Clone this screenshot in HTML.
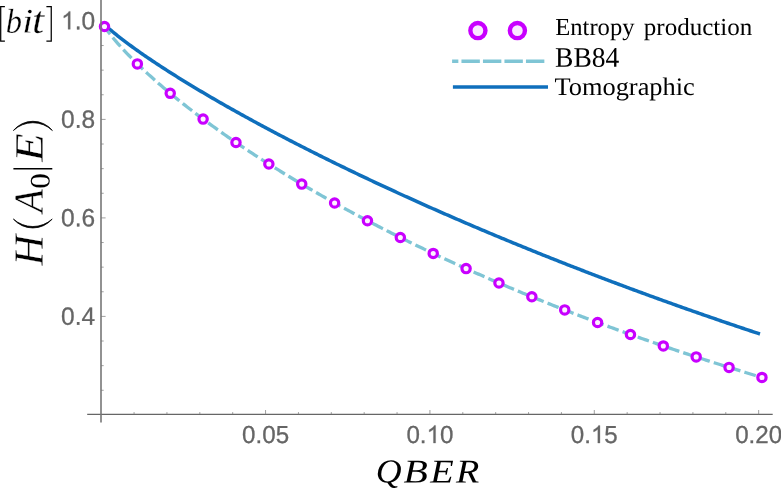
<!DOCTYPE html>
<html><head><meta charset="utf-8"><title>plot</title>
<style>
html,body{margin:0;padding:0;background:#fff;}
body{width:781px;height:489px;overflow:hidden;}
svg{display:block;will-change:transform;}
.sans{font-family:"Liberation Sans",sans-serif;fill:#666;}
.serif{font-family:"Liberation Serif",serif;fill:#000;}
.it{font-family:"Liberation Serif",serif;font-style:italic;fill:#000;}
</style></head><body>
<svg width="781" height="489" viewBox="0 0 781 489">
<rect width="781" height="489" fill="#fff"/>
<!-- curves -->
<path d="M104.49,24.45 L106.13,26.00 L107.77,27.50 L109.42,28.95 L111.06,30.37 L112.70,31.75 L114.34,33.11 L115.99,34.45 L117.63,35.77 L119.27,37.06 L120.92,38.35 L122.56,39.61 L124.20,40.87 L125.84,42.11 L127.49,43.34 L129.13,44.55 L130.77,45.76 L132.42,46.96 L134.06,48.15 L135.70,49.32 L137.34,50.49 L138.99,51.65 L140.63,52.81 L142.27,53.95 L143.92,55.09 L145.56,56.22 L147.20,57.34 L148.84,58.46 L150.49,59.57 L152.13,60.68 L153.77,61.78 L155.41,62.87 L157.06,63.96 L158.70,65.04 L160.34,66.12 L161.99,67.19 L163.63,68.26 L165.27,69.32 L166.91,70.38 L168.56,71.43 L170.20,72.48 L171.84,73.52 L173.49,74.56 L175.13,75.59 L176.77,76.62 L178.41,77.65 L180.06,78.67 L181.70,79.69 L183.34,80.71 L184.99,81.72 L186.63,82.73 L188.27,83.73 L189.91,84.73 L191.56,85.73 L193.20,86.72 L194.84,87.71 L196.49,88.69 L198.13,89.68 L199.77,90.66 L201.41,91.63 L203.06,92.61 L204.70,93.58 L206.34,94.54 L207.99,95.51 L209.63,96.47 L211.27,97.43 L212.91,98.38 L214.56,99.34 L216.20,100.29 L217.84,101.23 L219.49,102.18 L221.13,103.12 L222.77,104.06 L224.41,104.99 L226.06,105.93 L227.70,106.86 L229.34,107.79 L230.98,108.71 L232.63,109.64 L234.27,110.56 L235.91,111.48 L237.56,112.39 L239.20,113.31 L240.84,114.22 L242.48,115.13 L244.13,116.03 L245.77,116.94 L247.41,117.84 L249.06,118.74 L250.70,119.64 L252.34,120.54 L253.98,121.43 L255.63,122.32 L257.27,123.21 L258.91,124.10 L260.56,124.98 L262.20,125.86 L263.84,126.75 L265.48,127.62 L267.13,128.50 L268.77,129.38 L270.41,130.25 L272.06,131.12 L273.70,131.99 L275.34,132.86 L276.98,133.72 L278.63,134.58 L280.27,135.45 L281.91,136.30 L283.56,137.16 L285.20,138.02 L286.84,138.87 L288.48,139.72 L290.13,140.57 L291.77,141.42 L293.41,142.27 L295.06,143.11 L296.70,143.96 L298.34,144.80 L299.98,145.64 L301.63,146.48 L303.27,147.31 L304.91,148.15 L306.55,148.98 L308.20,149.81 L309.84,150.64 L311.48,151.47 L313.13,152.29 L314.77,153.12 L316.41,153.94 L318.05,154.76 L319.70,155.58 L321.34,156.40 L322.98,157.22 L324.63,158.03 L326.27,158.85 L327.91,159.66 L329.55,160.47 L331.20,161.28 L332.84,162.09 L334.48,162.89 L336.13,163.70 L337.77,164.50 L339.41,165.30 L341.05,166.10 L342.70,166.90 L344.34,167.69 L345.98,168.49 L347.63,169.28 L349.27,170.08 L350.91,170.87 L352.55,171.66 L354.20,172.45 L355.84,173.23 L357.48,174.02 L359.13,174.80 L360.77,175.59 L362.41,176.37 L364.05,177.15 L365.70,177.93 L367.34,178.70 L368.98,179.48 L370.63,180.25 L372.27,181.03 L373.91,181.80 L375.55,182.57 L377.20,183.34 L378.84,184.10 L380.48,184.87 L382.12,185.64 L383.77,186.40 L385.41,187.16 L387.05,187.92 L388.70,188.68 L390.34,189.44 L391.98,190.20 L393.62,190.96 L395.27,191.71 L396.91,192.47 L398.55,193.22 L400.20,193.97 L401.84,194.72 L403.48,195.47 L405.12,196.22 L406.77,196.96 L408.41,197.71 L410.05,198.45 L411.70,199.19 L413.34,199.93 L414.98,200.67 L416.62,201.41 L418.27,202.15 L419.91,202.89 L421.55,203.62 L423.20,204.36 L424.84,205.09 L426.48,205.82 L428.12,206.55 L429.77,207.28 L431.41,208.01 L433.05,208.74 L434.70,209.46 L436.34,210.19 L437.98,210.91 L439.62,211.64 L441.27,212.36 L442.91,213.08 L444.55,213.80 L446.20,214.52 L447.84,215.23 L449.48,215.95 L451.12,216.66 L452.77,217.38 L454.41,218.09 L456.05,218.80 L457.69,219.51 L459.34,220.22 L460.98,220.93 L462.62,221.64 L464.27,222.34 L465.91,223.05 L467.55,223.75 L469.19,224.45 L470.84,225.15 L472.48,225.85 L474.12,226.55 L475.77,227.25 L477.41,227.95 L479.05,228.65 L480.69,229.34 L482.34,230.04 L483.98,230.73 L485.62,231.42 L487.27,232.11 L488.91,232.80 L490.55,233.49 L492.19,234.18 L493.84,234.87 L495.48,235.55 L497.12,236.24 L498.77,236.92 L500.41,237.60 L502.05,238.29 L503.69,238.97 L505.34,239.65 L506.98,240.33 L508.62,241.00 L510.27,241.68 L511.91,242.36 L513.55,243.03 L515.19,243.71 L516.84,244.38 L518.48,245.05 L520.12,245.72 L521.77,246.39 L523.41,247.06 L525.05,247.73 L526.69,248.39 L528.34,249.06 L529.98,249.73 L531.62,250.39 L533.26,251.05 L534.91,251.71 L536.55,252.38 L538.19,253.04 L539.84,253.69 L541.48,254.35 L543.12,255.01 L544.76,255.67 L546.41,256.32 L548.05,256.98 L549.69,257.63 L551.34,258.28 L552.98,258.93 L554.62,259.58 L556.26,260.23 L557.91,260.88 L559.55,261.53 L561.19,262.18 L562.84,262.82 L564.48,263.47 L566.12,264.11 L567.76,264.76 L569.41,265.40 L571.05,266.04 L572.69,266.68 L574.34,267.32 L575.98,267.96 L577.62,268.59 L579.26,269.23 L580.91,269.87 L582.55,270.50 L584.19,271.14 L585.84,271.77 L587.48,272.40 L589.12,273.03 L590.76,273.66 L592.41,274.29 L594.05,274.92 L595.69,275.55 L597.34,276.18 L598.98,276.80 L600.62,277.43 L602.26,278.05 L603.91,278.67 L605.55,279.30 L607.19,279.92 L608.83,280.54 L610.48,281.16 L612.12,281.78 L613.76,282.39 L615.41,283.01 L617.05,283.63 L618.69,284.24 L620.33,284.86 L621.98,285.47 L623.62,286.08 L625.26,286.69 L626.91,287.31 L628.55,287.92 L630.19,288.52 L631.83,289.13 L633.48,289.74 L635.12,290.35 L636.76,290.95 L638.41,291.56 L640.05,292.16 L641.69,292.76 L643.33,293.37 L644.98,293.97 L646.62,294.57 L648.26,295.17 L649.91,295.77 L651.55,296.36 L653.19,296.96 L654.83,297.56 L656.48,298.15 L658.12,298.75 L659.76,299.34 L661.41,299.93 L663.05,300.53 L664.69,301.12 L666.33,301.71 L667.98,302.30 L669.62,302.89 L671.26,303.47 L672.91,304.06 L674.55,304.65 L676.19,305.23 L677.83,305.82 L679.48,306.40 L681.12,306.98 L682.76,307.57 L684.40,308.15 L686.05,308.73 L687.69,309.31 L689.33,309.89 L690.98,310.46 L692.62,311.04 L694.26,311.62 L695.90,312.19 L697.55,312.77 L699.19,313.34 L700.83,313.91 L702.48,314.49 L704.12,315.06 L705.76,315.63 L707.40,316.20 L709.05,316.77 L710.69,317.33 L712.33,317.90 L713.98,318.47 L715.62,319.03 L717.26,319.60 L718.90,320.16 L720.55,320.72 L722.19,321.29 L723.83,321.85 L725.48,322.41 L727.12,322.97 L728.76,323.53 L730.40,324.09 L732.05,324.64 L733.69,325.20 L735.33,325.76 L736.98,326.31 L738.62,326.87 L740.26,327.42 L741.90,327.97 L743.55,328.52 L745.19,329.08 L746.83,329.63 L748.48,330.18 L750.12,330.72 L751.76,331.27 L753.40,331.82 L755.05,332.37 L756.69,332.91 L758.33,333.46 L759.97,334.00" fill="none" stroke="#0f6fbc" stroke-width="3.5" stroke-linejoin="round"/>
<path d="M104.49,26.52 L106.14,28.90 L107.78,31.16 L109.43,33.33 L111.08,35.43 L112.73,37.47 L114.37,39.46 L116.02,41.40 L117.67,43.30 L119.32,45.17 L120.96,47.01 L122.61,48.81 L124.26,50.59 L125.91,52.34 L127.56,54.07 L129.20,55.77 L130.85,57.46 L132.50,59.12 L134.15,60.76 L135.79,62.39 L137.44,64.00 L139.09,65.59 L140.74,67.17 L142.39,68.73 L144.03,70.28 L145.68,71.82 L147.33,73.34 L148.98,74.85 L150.62,76.34 L152.27,77.83 L153.92,79.30 L155.57,80.76 L157.22,82.21 L158.86,83.65 L160.51,85.08 L162.16,86.49 L163.81,87.90 L165.45,89.30 L167.10,90.69 L168.75,92.07 L170.40,93.44 L172.05,94.81 L173.69,96.16 L175.34,97.51 L176.99,98.85 L178.64,100.18 L180.28,101.50 L181.93,102.81 L183.58,104.12 L185.23,105.42 L186.88,106.72 L188.52,108.00 L190.17,109.28 L191.82,110.55 L193.47,111.82 L195.11,113.08 L196.76,114.33 L198.41,115.58 L200.06,116.82 L201.71,118.05 L203.35,119.28 L205.00,120.50 L206.65,121.72 L208.30,122.93 L209.94,124.13 L211.59,125.33 L213.24,126.53 L214.89,127.71 L216.54,128.90 L218.18,130.08 L219.83,131.25 L221.48,132.42 L223.13,133.58 L224.77,134.74 L226.42,135.89 L228.07,137.04 L229.72,138.18 L231.37,139.32 L233.01,140.45 L234.66,141.58 L236.31,142.70 L237.96,143.82 L239.60,144.94 L241.25,146.05 L242.90,147.15 L244.55,148.26 L246.20,149.35 L247.84,150.45 L249.49,151.54 L251.14,152.62 L252.79,153.70 L254.43,154.78 L256.08,155.85 L257.73,156.92 L259.38,157.99 L261.03,159.05 L262.67,160.10 L264.32,161.16 L265.97,162.21 L267.62,163.25 L269.26,164.30 L270.91,165.33 L272.56,166.37 L274.21,167.40 L275.86,168.43 L277.50,169.45 L279.15,170.47 L280.80,171.49 L282.45,172.50 L284.09,173.51 L285.74,174.52 L287.39,175.52 L289.04,176.52 L290.69,177.52 L292.33,178.51 L293.98,179.50 L295.63,180.49 L297.28,181.47 L298.92,182.46 L300.57,183.43 L302.22,184.41 L303.87,185.38 L305.52,186.35 L307.16,187.31 L308.81,188.27 L310.46,189.23 L312.11,190.19 L313.75,191.14 L315.40,192.09 L317.05,193.04 L318.70,193.98 L320.35,194.92 L321.99,195.86 L323.64,196.80 L325.29,197.73 L326.94,198.66 L328.58,199.59 L330.23,200.51 L331.88,201.44 L333.53,202.35 L335.18,203.27 L336.82,204.18 L338.47,205.09 L340.12,206.00 L341.77,206.91 L343.41,207.81 L345.06,208.71 L346.71,209.61 L348.36,210.50 L350.00,211.40 L351.65,212.29 L353.30,213.17 L354.95,214.06 L356.60,214.94 L358.24,215.82 L359.89,216.70 L361.54,217.57 L363.19,218.45 L364.83,219.32 L366.48,220.18 L368.13,221.05 L369.78,221.91 L371.43,222.77 L373.07,223.63 L374.72,224.49 L376.37,225.34 L378.02,226.19 L379.66,227.04 L381.31,227.89 L382.96,228.73 L384.61,229.57 L386.26,230.41 L387.90,231.25 L389.55,232.09 L391.20,232.92 L392.85,233.75 L394.49,234.58 L396.14,235.40 L397.79,236.23 L399.44,237.05 L401.09,237.87 L402.73,238.69 L404.38,239.50 L406.03,240.32 L407.68,241.13 L409.32,241.94 L410.97,242.74 L412.62,243.55 L414.27,244.35 L415.92,245.15 L417.56,245.95 L419.21,246.75 L420.86,247.54 L422.51,248.33 L424.15,249.13 L425.80,249.91 L427.45,250.70 L429.10,251.48 L430.75,252.27 L432.39,253.05 L434.04,253.83 L435.69,254.60 L437.34,255.38 L438.98,256.15 L440.63,256.92 L442.28,257.69 L443.93,258.46 L445.58,259.22 L447.22,259.99 L448.87,260.75 L450.52,261.51 L452.17,262.26 L453.81,263.02 L455.46,263.77 L457.11,264.52 L458.76,265.28 L460.41,266.02 L462.05,266.77 L463.70,267.51 L465.35,268.26 L467.00,269.00 L468.64,269.74 L470.29,270.47 L471.94,271.21 L473.59,271.94 L475.24,272.68 L476.88,273.41 L478.53,274.13 L480.18,274.86 L481.83,275.59 L483.47,276.31 L485.12,277.03 L486.77,277.75 L488.42,278.47 L490.07,279.18 L491.71,279.90 L493.36,280.61 L495.01,281.32 L496.66,282.03 L498.30,282.74 L499.95,283.45 L501.60,284.15 L503.25,284.85 L504.90,285.55 L506.54,286.25 L508.19,286.95 L509.84,287.65 L511.49,288.34 L513.13,289.03 L514.78,289.73 L516.43,290.42 L518.08,291.10 L519.73,291.79 L521.37,292.47 L523.02,293.16 L524.67,293.84 L526.32,294.52 L527.96,295.20 L529.61,295.87 L531.26,296.55 L532.91,297.22 L534.56,297.90 L536.20,298.57 L537.85,299.24 L539.50,299.90 L541.15,300.57 L542.79,301.23 L544.44,301.90 L546.09,302.56 L547.74,303.22 L549.39,303.87 L551.03,304.53 L552.68,305.19 L554.33,305.84 L555.98,306.49 L557.62,307.14 L559.27,307.79 L560.92,308.44 L562.57,309.09 L564.21,309.73 L565.86,310.37 L567.51,311.02 L569.16,311.66 L570.81,312.30 L572.45,312.93 L574.10,313.57 L575.75,314.20 L577.40,314.84 L579.04,315.47 L580.69,316.10 L582.34,316.73 L583.99,317.35 L585.64,317.98 L587.28,318.60 L588.93,319.23 L590.58,319.85 L592.23,320.47 L593.87,321.09 L595.52,321.71 L597.17,322.32 L598.82,322.94 L600.47,323.55 L602.11,324.16 L603.76,324.77 L605.41,325.38 L607.06,325.99 L608.70,326.60 L610.35,327.20 L612.00,327.80 L613.65,328.41 L615.30,329.01 L616.94,329.61 L618.59,330.21 L620.24,330.80 L621.89,331.40 L623.53,331.99 L625.18,332.58 L626.83,333.18 L628.48,333.77 L630.13,334.36 L631.77,334.94 L633.42,335.53 L635.07,336.11 L636.72,336.70 L638.36,337.28 L640.01,337.86 L641.66,338.44 L643.31,339.02 L644.96,339.60 L646.60,340.17 L648.25,340.75 L649.90,341.32 L651.55,341.89 L653.19,342.46 L654.84,343.03 L656.49,343.60 L658.14,344.17 L659.79,344.73 L661.43,345.30 L663.08,345.86 L664.73,346.42 L666.38,346.98 L668.02,347.54 L669.67,348.10 L671.32,348.66 L672.97,349.21 L674.62,349.77 L676.26,350.32 L677.91,350.87 L679.56,351.42 L681.21,351.97 L682.85,352.52 L684.50,353.07 L686.15,353.61 L687.80,354.16 L689.45,354.70 L691.09,355.24 L692.74,355.78 L694.39,356.32 L696.04,356.86 L697.68,357.40 L699.33,357.93 L700.98,358.47 L702.63,359.00 L704.28,359.53 L705.92,360.06 L707.57,360.59 L709.22,361.12 L710.87,361.65 L712.51,362.18 L714.16,362.70 L715.81,363.23 L717.46,363.75 L719.11,364.27 L720.75,364.79 L722.40,365.31 L724.05,365.83 L725.70,366.35 L727.34,366.86 L728.99,367.38 L730.64,367.89 L732.29,368.40 L733.94,368.91 L735.58,369.42 L737.23,369.93 L738.88,370.44 L740.53,370.95 L742.17,371.45 L743.82,371.96 L745.47,372.46 L747.12,372.96 L748.77,373.46 L750.41,373.96 L752.06,374.46 L753.71,374.96 L755.36,375.46 L757.00,375.95 L758.65,376.45 L760.30,376.94 L761.95,377.43" fill="none" stroke="#7fc5d5" stroke-width="3.3" stroke-dasharray="11.85 4.2" stroke-dashoffset="2.3"/>
<g fill="#fdf2ff" stroke="#c800ff" stroke-width="3.2"><circle cx="104.49" cy="26.52" r="4.15"/><circle cx="137.36" cy="63.92" r="4.15"/><circle cx="170.23" cy="93.31" r="4.15"/><circle cx="203.11" cy="119.10" r="4.15"/><circle cx="235.98" cy="142.48" r="4.15"/><circle cx="268.85" cy="164.04" r="4.15"/><circle cx="301.73" cy="184.12" r="4.15"/><circle cx="334.60" cy="202.95" r="4.15"/><circle cx="367.47" cy="220.70" r="4.15"/><circle cx="400.34" cy="237.50" r="4.15"/><circle cx="433.22" cy="253.44" r="4.15"/><circle cx="466.09" cy="268.59" r="4.15"/><circle cx="498.96" cy="283.02" r="4.15"/><circle cx="531.84" cy="296.79" r="4.15"/><circle cx="564.71" cy="309.92" r="4.15"/><circle cx="597.58" cy="322.48" r="4.15"/><circle cx="630.46" cy="334.47" r="4.15"/><circle cx="663.33" cy="345.94" r="4.15"/><circle cx="696.20" cy="356.91" r="4.15"/><circle cx="729.07" cy="367.40" r="4.15"/><circle cx="761.95" cy="377.43" r="4.15"/></g>
<!-- axes -->
<line x1="87.2" x2="772.7" y1="414.4" y2="414.4" stroke="#666666" stroke-width="1.2"/>
<line x1="101" x2="101" y1="0" y2="422.6" stroke="#777" stroke-width="1.6"/>
<g stroke="#777" stroke-width="0.7"><line x1="134.07" x2="134.07" y1="414.3" y2="412.1"/><line x1="166.95" x2="166.95" y1="414.3" y2="412.1"/><line x1="199.82" x2="199.82" y1="414.3" y2="412.1"/><line x1="232.69" x2="232.69" y1="414.3" y2="412.1"/><line x1="265.56" x2="265.56" y1="414.3" y2="410.0"/><line x1="298.44" x2="298.44" y1="414.3" y2="412.1"/><line x1="331.31" x2="331.31" y1="414.3" y2="412.1"/><line x1="364.18" x2="364.18" y1="414.3" y2="412.1"/><line x1="397.06" x2="397.06" y1="414.3" y2="412.1"/><line x1="429.93" x2="429.93" y1="414.3" y2="410.0"/><line x1="462.80" x2="462.80" y1="414.3" y2="412.1"/><line x1="495.68" x2="495.68" y1="414.3" y2="412.1"/><line x1="528.55" x2="528.55" y1="414.3" y2="412.1"/><line x1="561.42" x2="561.42" y1="414.3" y2="412.1"/><line x1="594.30" x2="594.30" y1="414.3" y2="410.0"/><line x1="627.17" x2="627.17" y1="414.3" y2="412.1"/><line x1="660.04" x2="660.04" y1="414.3" y2="412.1"/><line x1="692.91" x2="692.91" y1="414.3" y2="412.1"/><line x1="725.79" x2="725.79" y1="414.3" y2="412.1"/><line x1="758.66" x2="758.66" y1="414.3" y2="410.0"/><line y1="390.27" y2="390.27" x1="101" x2="103.7"/><line y1="365.65" y2="365.65" x1="101" x2="103.7"/><line y1="341.02" y2="341.02" x1="101" x2="103.7"/><line y1="316.40" y2="316.40" x1="101" x2="105.6"/><line y1="291.77" y2="291.77" x1="101" x2="103.7"/><line y1="267.15" y2="267.15" x1="101" x2="103.7"/><line y1="242.52" y2="242.52" x1="101" x2="103.7"/><line y1="217.90" y2="217.90" x1="101" x2="105.6"/><line y1="193.28" y2="193.28" x1="101" x2="103.7"/><line y1="168.65" y2="168.65" x1="101" x2="103.7"/><line y1="144.03" y2="144.03" x1="101" x2="103.7"/><line y1="119.40" y2="119.40" x1="101" x2="105.6"/><line y1="94.77" y2="94.77" x1="101" x2="103.7"/><line y1="70.15" y2="70.15" x1="101" x2="103.7"/><line y1="45.53" y2="45.53" x1="101" x2="103.7"/></g>
<g><text class="sans" transform="translate(242.10,443.05) rotate(0.03) scale(0.06032,0.06143)" font-size="400px" stroke="#666" stroke-width="4.88">0.05</text><text class="sans" transform="translate(406.46,443.05) rotate(0.03) scale(0.06032,0.06143)" font-size="400px" stroke="#666" stroke-width="4.88">0.</text><path d="M763,0 H583 V1147 Q518,1085 412.5,1023 Q307,961 223,930 V1104 Q374,1175 487,1276 Q600,1377 647,1472 H763 Z" transform="translate(426.59,443.05) rotate(0.03) scale(0.011782,-0.011997)" fill="#666" stroke="#666" stroke-width="25.0"/><text class="sans" transform="translate(440.01,443.05) rotate(0.03) scale(0.06032,0.06143)" font-size="400px" stroke="#666" stroke-width="4.88">0</text><text class="sans" transform="translate(570.83,443.05) rotate(0.03) scale(0.06032,0.06143)" font-size="400px" stroke="#666" stroke-width="4.88">0.</text><path d="M763,0 H583 V1147 Q518,1085 412.5,1023 Q307,961 223,930 V1104 Q374,1175 487,1276 Q600,1377 647,1472 H763 Z" transform="translate(590.95,443.05) rotate(0.03) scale(0.011782,-0.011997)" fill="#666" stroke="#666" stroke-width="25.0"/><text class="sans" transform="translate(604.37,443.05) rotate(0.03) scale(0.06032,0.06143)" font-size="400px" stroke="#666" stroke-width="4.88">5</text><text class="sans" transform="translate(735.19,443.05) rotate(0.03) scale(0.06032,0.06143)" font-size="400px" stroke="#666" stroke-width="4.88">0.20</text><text class="sans" transform="translate(61.12,324.80) rotate(0.03) scale(0.06126,0.06232)" font-size="400px" stroke="#666" stroke-width="4.81">0.4</text><text class="sans" transform="translate(61.12,226.30) rotate(0.03) scale(0.06126,0.06232)" font-size="400px" stroke="#666" stroke-width="4.81">0.6</text><text class="sans" transform="translate(61.12,127.80) rotate(0.03) scale(0.06126,0.06232)" font-size="400px" stroke="#666" stroke-width="4.81">0.8</text><path d="M763,0 H583 V1147 Q518,1085 412.5,1023 Q307,961 223,930 V1104 Q374,1175 487,1276 Q600,1377 647,1472 H763 Z" transform="translate(61.12,29.30) rotate(0.03) scale(0.011964,-0.012172)" fill="#666" stroke="#666" stroke-width="24.6"/><text class="sans" transform="translate(74.75,29.30) rotate(0.03) scale(0.06126,0.06232)" font-size="400px" stroke="#666" stroke-width="4.81">.0</text></g>
<!-- legend -->
<g fill="#fae9ff" stroke="#c800ff" stroke-width="4.4"><circle cx="477.9" cy="30.6" r="7.55"/><circle cx="517.4" cy="30.6" r="7.55"/></g>
<line x1="452.1" x2="544.5" y1="61.25" y2="61.25" stroke="#7fc5d5" stroke-width="3.3" stroke-dasharray="18.4 3.1" stroke-dashoffset="12.15"/>
<line x1="452.9" x2="548" y1="87" y2="87" stroke="#0f6fbc" stroke-width="3.7"/>
<g id="legtxt"><text class="serif" transform="translate(555.21,35.00) rotate(0.03) scale(0.06160,0.06107)" font-size="400px">Entropy</text><text class="serif" transform="translate(643.82,35.00) rotate(0.03) scale(0.06263,0.06107)" font-size="400px">production</text><text class="serif" transform="translate(555.12,66.70) rotate(0.03) scale(0.06883,0.07099)" font-size="400px">BB84</text><text class="serif" transform="translate(554.42,95.00) rotate(0.03) scale(0.06602,0.06336)" font-size="400px">Tomographic</text></g>
<!-- axis labels -->
<g id="bit"><path d="M4.9,6.725 H0.7 V41.125 H4.9" fill="none" stroke="#000" stroke-width="1.25" stroke-linejoin="miter"/><path d="M46.4,6.725 H51.25 V41.125 H46.4" fill="none" stroke="#000" stroke-width="1.25" stroke-linejoin="miter"/><text class="it" transform="translate(5.84,32.70) rotate(0.03) scale(0.08119,0.08655)" font-size="400px" stroke="#fff" stroke-width="3.47" paint-order="fill stroke">b</text><text class="it" transform="translate(22.33,32.70) rotate(0.03) scale(0.09770,0.08724)" font-size="400px" stroke="#fff" stroke-width="3.44" paint-order="fill stroke">i</text><text class="it" transform="translate(31.93,32.70) rotate(0.03) scale(0.10968,0.09602)" font-size="400px" stroke="#fff" stroke-width="3.12" paint-order="fill stroke">t</text></g>
<g id="qber"><text class="it" transform="translate(375.78,482.60) rotate(0.03) scale(0.08945,0.08397)" font-size="400px">Q</text><text class="it" transform="translate(403.50,482.60) rotate(0.03) scale(0.09957,0.08321)" font-size="400px">B</text><text class="it" transform="translate(430.26,482.60) rotate(0.03) scale(0.09596,0.08321)" font-size="400px">E</text><text class="it" transform="translate(455.89,482.60) rotate(0.03) scale(0.09542,0.08321)" font-size="400px">R</text></g>
<g id="ylab" transform="translate(42.7,265.9) rotate(-90)"><text class="it" transform="translate(0.32,0.00) rotate(0.03) scale(0.10572,0.10420)" font-size="400px" stroke="#fff" stroke-width="2.88" paint-order="fill stroke">H</text><path d="M46.800000000000004,-29.3 A25.69,25.69 0 0 0 46.800000000000004,9.5 A28.98,28.98 0 0 1 46.800000000000004,-29.3 Z" fill="#000" stroke="#000" stroke-width="0.8" stroke-linejoin="round"/><text class="it" transform="translate(53.39,0.00) rotate(0.03) scale(0.09515,0.10417)" font-size="400px" stroke="#fff" stroke-width="2.88" paint-order="fill stroke">A</text><text class="serif" transform="translate(77.22,6.70) rotate(0.03) scale(0.07783,0.07068)" font-size="400px">0</text><line x1="97.1" x2="97.1" y1="-29.3" y2="9.6" stroke="#000" stroke-width="1.4"/><text class="it" transform="translate(104.26,0.00) rotate(0.03) scale(0.11656,0.10153)" font-size="400px" stroke="#fff" stroke-width="2.95" paint-order="fill stroke">E</text><path d="M135.4,-29.3 A25.27,25.27 0 0 1 135.4,9.7 A28.28,28.28 0 0 0 135.4,-29.3 Z" fill="#000" stroke="#000" stroke-width="0.8" stroke-linejoin="round"/></g>
</svg>
</body></html>
